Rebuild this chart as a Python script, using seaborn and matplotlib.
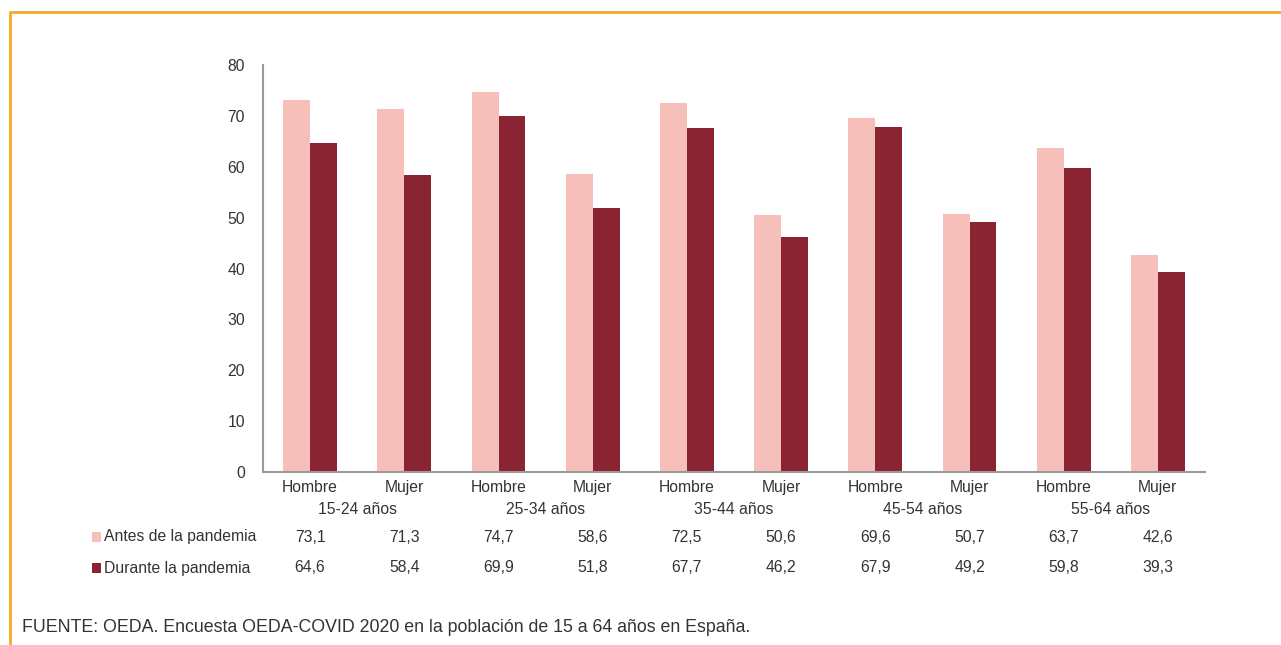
import numpy as np
import pandas as pd
import matplotlib
matplotlib.use("Agg")
import matplotlib.pyplot as plt
import matplotlib.transforms as mtransforms
from matplotlib.lines import Line2D
from matplotlib.patches import Rectangle
import seaborn as sns

# ============================================================
# DATA
# ============================================================

age_groups = ["15-24 años", "25-34 años", "35-44 años", "45-54 años", "55-64 años"]
sexes = ["Hombre", "Mujer"]
series_names = ["Antes de la pandemia", "Durante la pandemia"]

antes = [73.1, 71.3, 74.7, 58.6, 72.5, 50.6, 69.6, 50.7, 63.7, 42.6]
durante = [64.6, 58.4, 69.9, 51.8, 67.7, 46.2, 67.9, 49.2, 59.8, 39.3]

y_ticks = [0, 10, 20, 30, 40, 50, 60, 70, 80]

source_text = "FUENTE: OEDA. Encuesta OEDA-COVID 2020 en la población de 15 a 64 años en España."

# ============================================================
# STYLE
# ============================================================

LIGHT = "#f7bfba"
DARK = "#8b2432"
TEXT = "#333333"
AXIS = "#9a9a9a"
ORANGE = "#f9a82a"

sns.set_style("white")
plt.rcParams["font.family"] = ["Liberation Sans", "DejaVu Sans"]
FS = 11.3

# long-form table
cats = [f"{g}|{s}" for g in age_groups for s in sexes]
df = pd.DataFrame({
    "cat": cats * 2,
    "serie": [series_names[0]] * len(cats) + [series_names[1]] * len(cats),
    "valor": antes + durante,
})

fig = plt.figure(figsize=(12.81, 6.45), dpi=100)
ax = fig.add_axes([0.2053, 0.2682, 0.7354, 0.631])

sns.barplot(
    data=df,
    x="cat",
    y="valor",
    hue="serie",
    order=cats,
    hue_order=series_names,
    palette=[LIGHT, DARK],
    saturation=1,
    width=0.57,
    linewidth=0,
    errorbar=None,
    legend=False,
    ax=ax,
)

ax.set_xlim(-0.5, len(cats) - 0.5)
ax.set_ylim(0, 80)
ax.set_yticks(y_ticks)
ax.set_yticklabels([str(t) for t in y_ticks], fontsize=FS, color=TEXT)
ax.set_xticks(range(len(cats)))
ax.set_xticklabels([c.split("|")[1] for c in cats], fontsize=FS, color=TEXT)
ax.tick_params(axis="both", length=0)
ax.tick_params(axis="y", pad=13)
ax.tick_params(axis="x", pad=6)
ax.set_xlabel("")
ax.set_ylabel("")

for side in ["top", "right"]:
    ax.spines[side].set_visible(False)
for side in ["left", "bottom"]:
    ax.spines[side].set_color(AXIS)
    ax.spines[side].set_linewidth(1.5)

# ============================================================
# AGE GROUPS + DATA TABLE
# ============================================================

trans = mtransforms.blended_transform_factory(ax.transData, fig.transFigure)

def fy(px):
    return 1 - px / 645

for i, g in enumerate(age_groups):
    ax.text(2 * i + 0.5, fy(510), g, transform=trans,
            ha="center", va="center", fontsize=FS, color=TEXT)

for row, (vals, col, ypx) in enumerate(
        [(antes, LIGHT, 537), (durante, DARK, 568)]):
    for i, v in enumerate(vals):
        ax.text(i, fy(ypx), f"{v:.1f}".replace(".", ","), transform=trans,
                ha="center", va="center", fontsize=FS, color=TEXT)
    fig.add_artist(Rectangle((92 / 1281, fy(ypx + 5)), 9 / 1281, 10 / 645,
                             transform=fig.transFigure, color=col, lw=0))
    fig.text(104 / 1281, fy(ypx), series_names[row],
             ha="left", va="center", fontsize=FS, color=TEXT)

fig.text(22 / 1281, fy(627), source_text,
         ha="left", va="center", fontsize=12.8, color=TEXT)

# orange frame (top + left)
fig.add_artist(Line2D([10 / 1281, 1], [fy(12), fy(12)],
                      transform=fig.transFigure, color=ORANGE, lw=2))
fig.add_artist(Line2D([10 / 1281, 10 / 1281], [fy(12), 0],
                      transform=fig.transFigure, color=ORANGE, lw=2))

fig.savefig("out.png", dpi=100)
